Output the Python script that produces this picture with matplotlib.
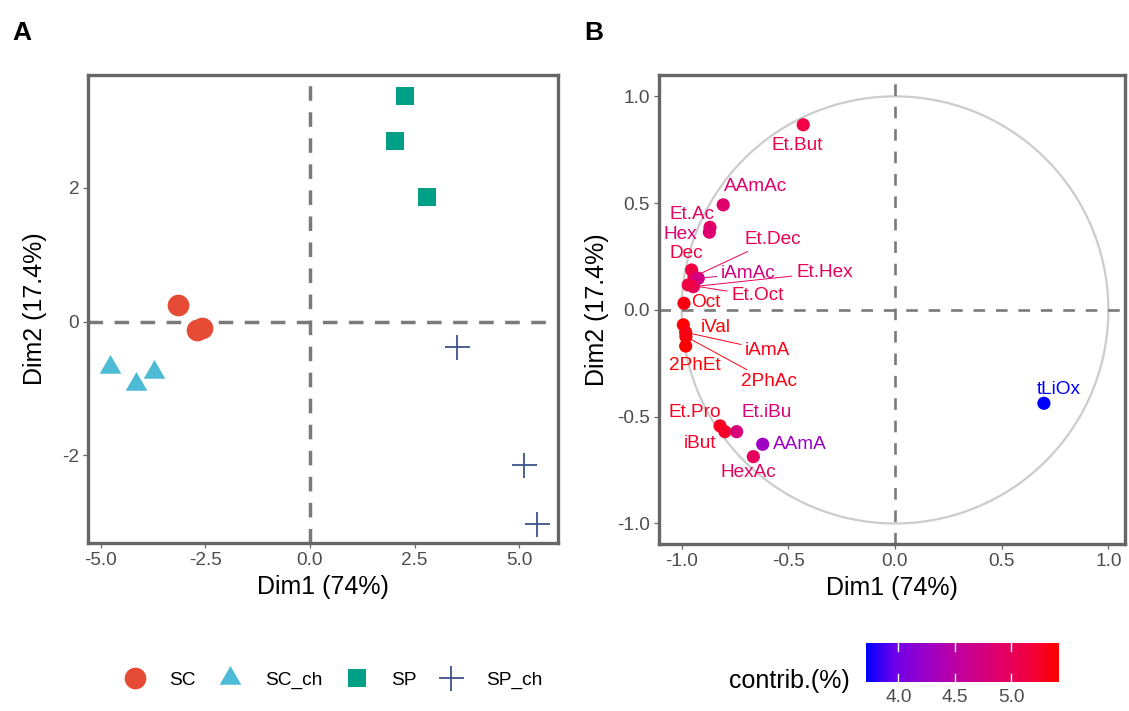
import numpy as np
import matplotlib
matplotlib.use("Agg")
import matplotlib.pyplot as plt
from matplotlib.colors import LinearSegmentedColormap, Normalize
from matplotlib.lines import Line2D

plt.rcParams["font.family"] = ["Liberation Sans", "DejaVu Sans"]

# ---- panel A: individuals ----
groups = ["SC", "SC_ch", "SP", "SP_ch"]
group_colors = ["#E64B35", "#4DBBD5", "#00A087", "#3C5488"]
sc_x = [-3.16, -2.70, -2.58]
sc_y = [0.25, -0.13, -0.09]
scch_x = [-4.78, -4.15, -3.73]
scch_y = [-0.68, -0.93, -0.75]
sp_x = [2.27, 2.03, 2.79]
sp_y = [3.37, 2.71, 1.87]
spch_x = [3.52, 5.12, 5.42]
spch_y = [-0.38, -2.15, -3.03]

# ---- panel B: variables ----
var_names = ["Et.But", "AAmAc", "Et.Ac", "Hex", "Dec", "Et.Dec", "iAmAc", "Et.Hex",
             "Et.Oct", "Oct", "iVal", "iAmA", "2PhAc", "2PhEt", "Et.Pro", "iBut",
             "Et.iBu", "AAmA", "HexAc", "tLiOx"]
dim1 = [-0.43, -0.805, -0.867, -0.87, -0.953, -0.942, -0.922, -0.945,
        -0.969, -0.989, -0.992, -0.981, -0.980, -0.981, -0.82, -0.797,
        -0.742, -0.62, -0.664, 0.698]
dim2 = [0.867, 0.492, 0.387, 0.364, 0.187, 0.156, 0.148, 0.109,
        0.117, 0.031, -0.07, -0.105, -0.125, -0.169, -0.543, -0.57,
        -0.57, -0.629, -0.687, -0.437]
contrib = [5.12, 4.87, 4.93, 4.86, 5.16, 5.05, 4.72, 4.98,
           5.15, 5.35, 5.41, 5.33, 5.34, 5.42, 5.29, 5.25,
           4.79, 4.27, 4.99, 3.71]

# label offsets in pixels (dx, dy), and which labels get a connector line
label_off = {"Et.But": (-6, -21), "AAmAc": (32, 18), "Et.Ac": (-18, 13), "Hex": (-29, -2),
             "Dec": (-5, 16), "Et.Dec": (79, 37), "iAmAc": (50, 5), "Et.Hex": (131, 14),
             "Et.Oct": (69, -11), "Oct": (22, 1), "iVal": (32, -3), "iAmA": (82, -18),
             "2PhAc": (83, -45), "2PhEt": (9, -19), "Et.Pro": (-25, 13), "iBut": (-25, -12),
             "Et.iBu": (30, 19), "AAmA": (37, 0), "HexAc": (-5, -16), "tLiOx": (15, 14)}
with_line = {"Et.Dec", "iAmAc", "Et.Hex", "Et.Oct", "iAmA", "2PhAc"}

W, H = 1129, 711
fig = plt.figure(figsize=(W / 100, H / 100), dpi=100)

frame_col = "#666666"
tick_col = "#4d4d4d"
tick_fs = 13.7
title_fs = 18


def style_axes(ax):
    for s in ax.spines.values():
        s.set_color(frame_col)
        s.set_linewidth(2.4)
    ax.tick_params(colors=frame_col, labelcolor=tick_col, labelsize=tick_fs,
                   length=3.5, width=0.9, pad=3)


axA = fig.add_axes([88.3 / W, 1 - 543 / H, (558 - 88.3) / W, (543 - 75) / H])
axA.axhline(0, color="#7a7a7a", lw=2.5, dashes=(4.2, 3.3), zorder=1)
axA.axvline(0, color="#7a7a7a", lw=2.5, dashes=(4.2, 3.3), zorder=1)

tri = [(0, 1), (-0.866, -0.5), (0.866, -0.5)]
ms = {"SC": ("o", 15.6), "SC_ch": (tri, 18.0), "SP": ("s", 12.5), "SP_ch": ("+", 18.0)}
data = {"SC": (sc_x, sc_y), "SC_ch": (scch_x, scch_y), "SP": (sp_x, sp_y), "SP_ch": (spch_x, spch_y)}
handles = []
for g, c in zip(groups, group_colors):
    m, size = ms[g]
    x, y = data[g]
    mew = 1.3 if g == "SP_ch" else 0
    axA.plot(x, y, ls="none", marker=m, ms=size, mew=mew, color=c, zorder=3)
    handles.append(Line2D([], [], ls="none", marker=m, ms=size, mew=mew, color=c))

axA.set_xlim(-5.30, 5.93)
axA.set_ylim(-3.31, 3.69)
axA.set_xticks([-5.0, -2.5, 0.0, 2.5, 5.0])
axA.set_xticklabels(["-5.0", "-2.5", "0.0", "2.5", "5.0"])
axA.set_yticks([-2, 0, 2])
axA.set_yticklabels(["-2", "0", "2"])
style_axes(axA)
axA.set_xlabel("Dim1 (74%)", fontsize=title_fs, labelpad=4)
axA.set_ylabel("Dim2 (17.4%)", fontsize=title_fs, labelpad=11)

fig.legend(handles, groups, loc="center", bbox_to_anchor=(329 / W, 1 - 680 / H),
           ncol=4, frameon=False, fontsize=13.8, handlelength=2.0,
           handletextpad=0.8, columnspacing=0.8, borderpad=0)

# ---- panel B ----
cmap = LinearSegmentedColormap.from_list(
    "bpr", [(0.0, "#0000FF"), (0.15, "#7000E8"), (0.33, "#A000C4"), (0.5, "#C4009A"),
            (0.7, "#E20068"), (0.85, "#F20040"), (1.0, "#FF0000")])
norm = Normalize(vmin=min(contrib), vmax=max(contrib))

axB = fig.add_axes([659 / W, 1 - 544 / H, (1125 - 659) / W, (544 - 75) / H])
t = np.linspace(0, 2 * np.pi, 400)
axB.plot(np.cos(t), np.sin(t), color="#cccccc", lw=1.6, zorder=1)
axB.axhline(0, color="#7a7a7a", lw=1.9, dashes=(4.4, 4.1), zorder=1)
axB.axvline(0, color="#7a7a7a", lw=1.9, dashes=(4.4, 4.1), zorder=1)

cols = [cmap(norm(v)) for v in contrib]
axB.scatter(dim1, dim2, s=90, c=cols, edgecolors="none", zorder=3)
for name, x, y, c in zip(var_names, dim1, dim2, cols):
    dx, dy = label_off[name]
    kw = {}
    if name in with_line:
        kw["arrowprops"] = dict(arrowstyle="-", color=c, lw=0.7, shrinkA=1, shrinkB=3)
    axB.annotate(name, (x, y), xytext=(dx * 0.72, dy * 0.72), textcoords="offset points",
                 ha="center", va="center", fontsize=13.7, color=c, zorder=4, **kw)

axB.set_xlim(-1.106, 1.078)
axB.set_ylim(-1.096, 1.10)
ticks = [-1.0, -0.5, 0.0, 0.5, 1.0]
axB.set_xticks(ticks)
axB.set_yticks(ticks)
axB.set_xticklabels(["-1.0", "-0.5", "0.0", "0.5", "1.0"])
axB.set_yticklabels(["-1.0", "-0.5", "0.0", "0.5", "1.0"])
style_axes(axB)
axB.set_xlabel("Dim1 (74%)", fontsize=title_fs, labelpad=4)
axB.set_ylabel("Dim2 (17.4%)", fontsize=title_fs, labelpad=6)

# colourbar legend
cax = fig.add_axes([865.7 / W, 1 - 681.7 / H, (1058.3 - 865.7) / W, 39 / H])
grad = np.linspace(norm.vmin, norm.vmax, 300).reshape(1, -1)
cax.imshow(grad, aspect="auto", cmap=cmap, norm=norm,
           extent=[norm.vmin, norm.vmax, 0, 1])
cb_ticks = [4.0, 4.5, 5.0]
for v in cb_ticks:
    cax.plot([v, v], [0, 0.2], color="white", lw=1)
    cax.plot([v, v], [0.8, 1], color="white", lw=1)
cax.set_xlim(norm.vmin, norm.vmax)
cax.set_ylim(0, 1)
cax.set_yticks([])
cax.set_xticks(cb_ticks)
cax.set_xticklabels(["4.0", "4.5", "5.0"])
cax.tick_params(length=0, labelsize=13.8, labelcolor=tick_col, pad=5)
for s in cax.spines.values():
    s.set_visible(False)
fig.text(850 / W, 1 - 681 / H, "contrib.(%)", ha="right", va="center", fontsize=18)

# panel letters
fig.text(12 / W, 1 - 33 / H, "A", fontsize=19, fontweight="bold", va="center")
fig.text(584 / W, 1 - 33 / H, "B", fontsize=19, fontweight="bold", va="center")

fig.savefig("out.png", dpi=100)
